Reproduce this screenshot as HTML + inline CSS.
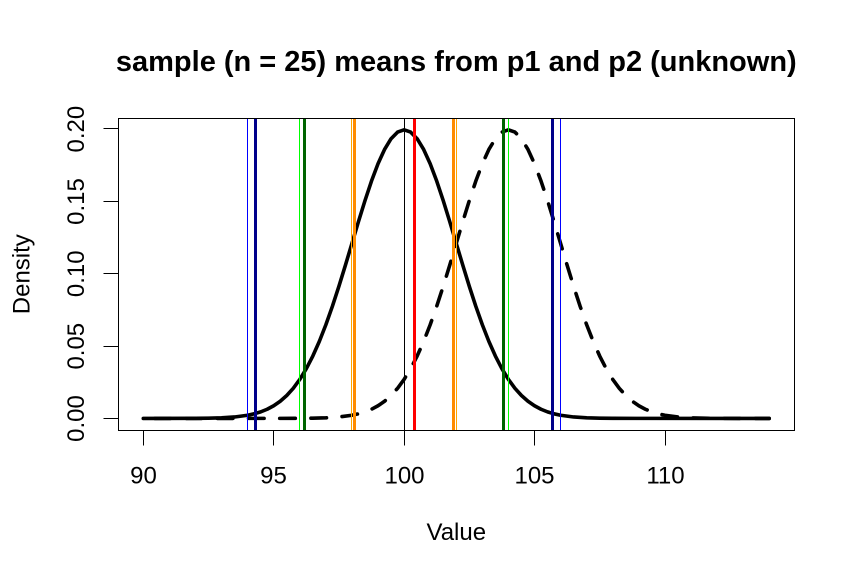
<!DOCTYPE html>
<html>
<head>
<meta charset="utf-8">
<style>
  html, body { margin: 0; padding: 0; background: #ffffff; }
  svg { display: block; }
  text { font-family: "Liberation Sans", Arial, sans-serif; fill: #000; }
</style>
</head>
<body>
<svg width="855" height="577" viewBox="0 0 855 577" xmlns="http://www.w3.org/2000/svg">
  <rect x="0" y="0" width="855" height="577" fill="#ffffff"/>

  <!-- Title -->
  <text x="456.3" y="71" font-size="29" font-weight="bold" text-anchor="middle">sample (n = 25) means from p1 and p2 (unknown)</text>

  <!-- Curves -->
  <path fill="none" stroke="#000" stroke-width="3.6" stroke-linejoin="round" stroke-linecap="round"
    d="M143.3,418.45 L195.46,418.35 L208.5,418.19 L221.54,417.82 L234.58,416.98 L247.62,415.24 L254.14,413.82 L260.66,411.87 L267.18,409.24 L273.7,405.77 L280.22,401.25 L286.74,395.49 L293.26,388.27 L299.78,379.39 L306.3,368.69 L312.82,356.03 L319.34,341.38 L325.86,324.76 L332.38,306.31 L338.9,286.32 L345.42,265.17 L351.94,243.4 L358.46,221.64 L364.98,200.6 L371.5,181.05 L378.02,163.76 L384.54,149.45 L391.06,138.73 L397.58,132.1 L404.1,129.85 L410.62,132.1 L417.14,138.73 L423.66,149.45 L430.18,163.76 L436.7,181.05 L443.22,200.6 L449.74,221.64 L456.26,243.4 L462.78,265.17 L469.3,286.32 L475.82,306.31 L482.34,324.76 L488.86,341.38 L495.38,356.03 L501.9,368.69 L508.42,379.39 L514.94,388.27 L521.46,395.49 L527.98,401.25 L534.5,405.77 L541.02,409.24 L547.54,411.87 L554.06,413.82 L560.58,415.24 L573.62,416.98 L586.66,417.82 L599.7,418.19 L612.74,418.35 L769.22,418.45"/>

  <path fill="none" stroke="#000" stroke-width="3.6" stroke-linejoin="round" stroke-linecap="round"
    stroke-dasharray="15.6 15.6" stroke-dashoffset="19.6"
    d="M143.3,418.45 L299.78,418.35 L312.82,418.19 L325.86,417.82 L338.9,416.98 L351.94,415.24 L358.46,413.82 L364.98,411.87 L371.5,409.24 L378.02,405.77 L384.54,401.25 L391.06,395.49 L397.58,388.27 L404.1,379.39 L410.62,368.69 L417.14,356.03 L423.66,341.38 L430.18,324.76 L436.7,306.31 L443.22,286.32 L449.74,265.17 L456.26,243.4 L462.78,221.64 L469.3,200.6 L475.82,181.05 L482.34,163.76 L488.86,149.45 L495.38,138.73 L501.9,132.1 L508.42,129.85 L514.94,132.1 L521.46,138.73 L527.98,149.45 L534.5,163.76 L541.02,181.05 L547.54,200.6 L554.06,221.64 L560.58,243.4 L567.1,265.17 L573.62,286.32 L580.14,306.31 L586.66,324.76 L593.18,341.38 L599.7,356.03 L606.22,368.69 L612.74,379.39 L619.26,388.27 L625.78,395.49 L632.3,401.25 L638.82,405.77 L645.34,409.24 L651.86,411.87 L658.38,413.82 L664.9,415.24 L677.94,416.98 L690.98,417.82 L704.02,418.19 L717.06,418.35 L769.22,418.45"/>

  <!-- Vertical lines (thin) -->
  <g stroke-width="1" shape-rendering="crispEdges">
    <line x1="247.5" y1="118.5" x2="247.5" y2="430.5" stroke="#0000ff"/>
    <line x1="560.5" y1="118.5" x2="560.5" y2="430.5" stroke="#0000ff"/>
    <line x1="299.5" y1="118.5" x2="299.5" y2="430.5" stroke="#00ff00"/>
    <line x1="508.5" y1="118.5" x2="508.5" y2="430.5" stroke="#00ff00"/>
    <line x1="351.5" y1="118.5" x2="351.5" y2="430.5" stroke="#ffa500"/>
    <line x1="456.5" y1="118.5" x2="456.5" y2="430.5" stroke="#ffa500"/>
    <line x1="404.5" y1="118.5" x2="404.5" y2="430.5" stroke="#000000"/>
  </g>
  <!-- Vertical lines (thick) -->
  <g stroke-width="3" shape-rendering="crispEdges">
    <line x1="255.5" y1="118.5" x2="255.5" y2="430.5" stroke="#00008b"/>
    <line x1="552.5" y1="118.5" x2="552.5" y2="430.5" stroke="#00008b"/>
    <line x1="304.5" y1="118.5" x2="304.5" y2="430.5" stroke="#006400"/>
    <line x1="503.5" y1="118.5" x2="503.5" y2="430.5" stroke="#006400"/>
    <line x1="354.5" y1="118.5" x2="354.5" y2="430.5" stroke="#ff8c00"/>
    <line x1="453.5" y1="118.5" x2="453.5" y2="430.5" stroke="#ff8c00"/>
    <line x1="414.5" y1="118.5" x2="414.5" y2="430.5" stroke="#ff0000"/>
  </g>

  <!-- Box -->
  <rect x="118.5" y="118.5" width="676" height="312" fill="none" stroke="#000" stroke-width="1" shape-rendering="crispEdges"/>

  <!-- X axis -->
  <g stroke="#000" stroke-width="1" shape-rendering="crispEdges">
    <line x1="143.5" y1="430.5" x2="665.5" y2="430.5"/>
    <line x1="143.5" y1="430.5" x2="143.5" y2="445.5"/>
    <line x1="273.5" y1="430.5" x2="273.5" y2="445.5"/>
    <line x1="404.5" y1="430.5" x2="404.5" y2="445.5"/>
    <line x1="534.5" y1="430.5" x2="534.5" y2="445.5"/>
    <line x1="665.5" y1="430.5" x2="665.5" y2="445.5"/>
  </g>
  <g font-size="24" text-anchor="middle">
    <text x="143.5" y="483.5">90</text>
    <text x="273.5" y="483.5">95</text>
    <text x="404.5" y="483.5">100</text>
    <text x="534.5" y="483.5">105</text>
    <text x="665.5" y="483.5">110</text>
  </g>
  <text x="456.3" y="540" font-size="24" text-anchor="middle">Value</text>

  <!-- Y axis -->
  <g stroke="#000" stroke-width="1" shape-rendering="crispEdges">
    <line x1="118.5" y1="128.5" x2="118.5" y2="418.5"/>
    <line x1="103.5" y1="418.5" x2="118.5" y2="418.5"/>
    <line x1="103.5" y1="346.5" x2="118.5" y2="346.5"/>
    <line x1="103.5" y1="273.5" x2="118.5" y2="273.5"/>
    <line x1="103.5" y1="201.5" x2="118.5" y2="201.5"/>
    <line x1="103.5" y1="128.5" x2="118.5" y2="128.5"/>
  </g>
  <g font-size="24" text-anchor="middle">
    <text transform="translate(84,418.5) rotate(-90)">0.00</text>
    <text transform="translate(84,346.2) rotate(-90)">0.05</text>
    <text transform="translate(84,273.8) rotate(-90)">0.10</text>
    <text transform="translate(84,201.5) rotate(-90)">0.15</text>
    <text transform="translate(84,129.1) rotate(-90)">0.20</text>
  </g>
  <text transform="translate(29.5,274.2) rotate(-90)" font-size="24" text-anchor="middle">Density</text>
</svg>
</body>
</html>
